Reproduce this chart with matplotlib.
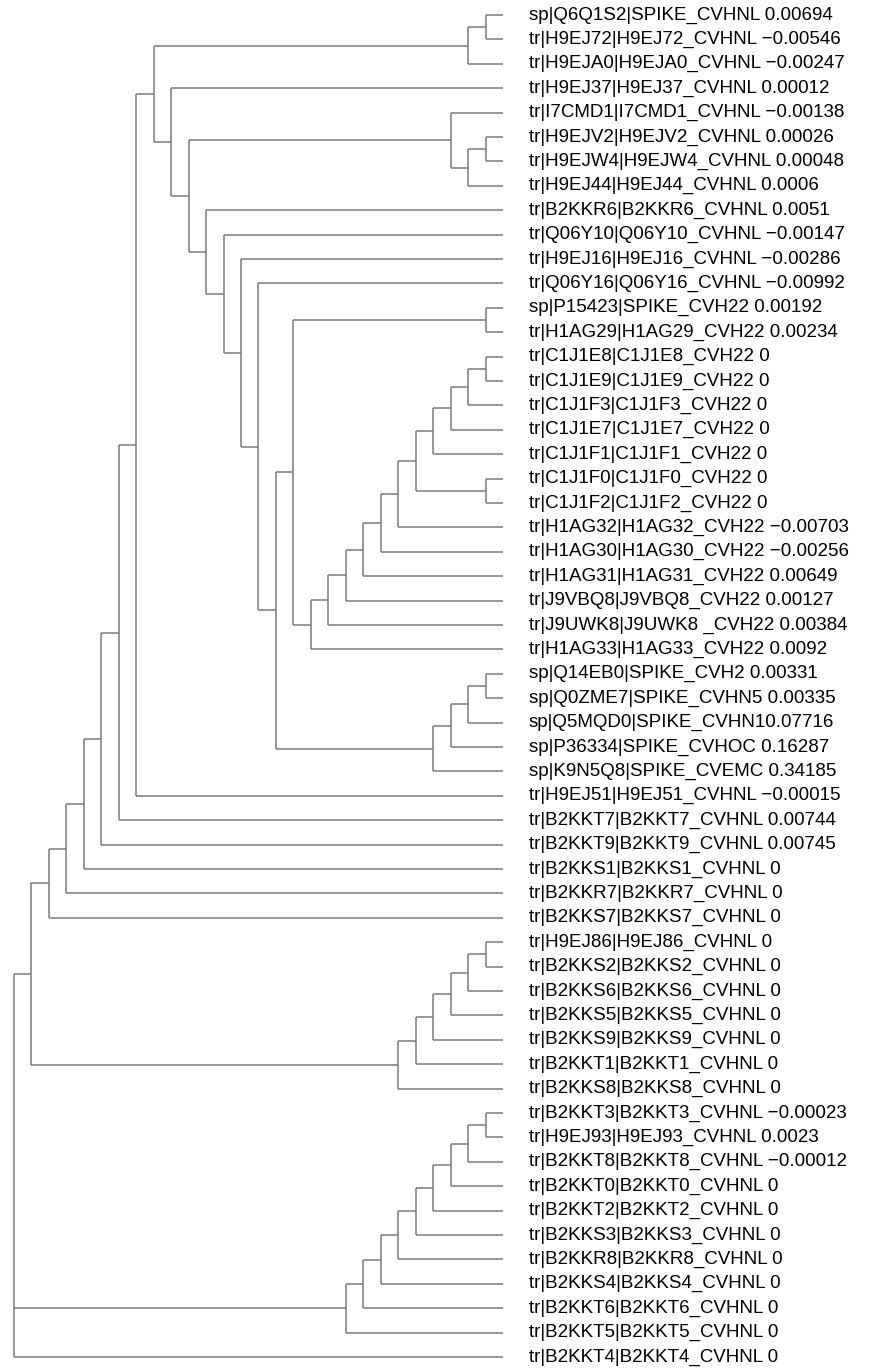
import matplotlib
matplotlib.use("Agg")
import matplotlib.pyplot as plt

plt.rcParams['font.family'] = ['Liberation Sans', 'DejaVu Sans']

# leaf labels, top to bottom
names = [
    "sp|Q6Q1S2|SPIKE_CVHNL", "tr|H9EJ72|H9EJ72_CVHNL", "tr|H9EJA0|H9EJA0_CVHNL",
    "tr|H9EJ37|H9EJ37_CVHNL", "tr|I7CMD1|I7CMD1_CVHNL", "tr|H9EJV2|H9EJV2_CVHNL",
    "tr|H9EJW4|H9EJW4_CVHNL", "tr|H9EJ44|H9EJ44_CVHNL", "tr|B2KKR6|B2KKR6_CVHNL",
    "tr|Q06Y10|Q06Y10_CVHNL", "tr|H9EJ16|H9EJ16_CVHNL", "tr|Q06Y16|Q06Y16_CVHNL",
    "sp|P15423|SPIKE_CVH22", "tr|H1AG29|H1AG29_CVH22", "tr|C1J1E8|C1J1E8_CVH22",
    "tr|C1J1E9|C1J1E9_CVH22", "tr|C1J1F3|C1J1F3_CVH22", "tr|C1J1E7|C1J1E7_CVH22",
    "tr|C1J1F1|C1J1F1_CVH22", "tr|C1J1F0|C1J1F0_CVH22", "tr|C1J1F2|C1J1F2_CVH22",
    "tr|H1AG32|H1AG32_CVH22", "tr|H1AG30|H1AG30_CVH22", "tr|H1AG31|H1AG31_CVH22",
    "tr|J9VBQ8|J9VBQ8_CVH22", "tr|J9UWK8|J9UWK8 _CVH22", "tr|H1AG33|H1AG33_CVH22",
    "sp|Q14EB0|SPIKE_CVH2", "sp|Q0ZME7|SPIKE_CVHN5", "sp|Q5MQD0|SPIKE_CVHN1",
    "sp|P36334|SPIKE_CVHOC", "sp|K9N5Q8|SPIKE_CVEMC", "tr|H9EJ51|H9EJ51_CVHNL",
    "tr|B2KKT7|B2KKT7_CVHNL", "tr|B2KKT9|B2KKT9_CVHNL", "tr|B2KKS1|B2KKS1_CVHNL",
    "tr|B2KKR7|B2KKR7_CVHNL", "tr|B2KKS7|B2KKS7_CVHNL", "tr|H9EJ86|H9EJ86_CVHNL",
    "tr|B2KKS2|B2KKS2_CVHNL", "tr|B2KKS6|B2KKS6_CVHNL", "tr|B2KKS5|B2KKS5_CVHNL",
    "tr|B2KKS9|B2KKS9_CVHNL", "tr|B2KKT1|B2KKT1_CVHNL", "tr|B2KKS8|B2KKS8_CVHNL",
    "tr|B2KKT3|B2KKT3_CVHNL", "tr|H9EJ93|H9EJ93_CVHNL", "tr|B2KKT8|B2KKT8_CVHNL",
    "tr|B2KKT0|B2KKT0_CVHNL", "tr|B2KKT2|B2KKT2_CVHNL", "tr|B2KKS3|B2KKS3_CVHNL",
    "tr|B2KKR8|B2KKR8_CVHNL", "tr|B2KKS4|B2KKS4_CVHNL", "tr|B2KKT6|B2KKT6_CVHNL",
    "tr|B2KKT5|B2KKT5_CVHNL", "tr|B2KKT4|B2KKT4_CVHNL",
]
values = [
    "0.00694", "\u22120.00546", "\u22120.00247", "0.00012", "\u22120.00138", "0.00026",
    "0.00048", "0.0006", "0.0051", "\u22120.00147", "\u22120.00286", "\u22120.00992",
    "0.00192", "0.00234", "0", "0", "0", "0", "0", "0", "0",
    "\u22120.00703", "\u22120.00256", "0.00649", "0.00127", "0.00384", "0.0092",
    "0.00331", "0.00335", "0.07716", "0.16287", "0.34185", "\u22120.00015",
    "0.00744", "0.00745", "0", "0", "0", "0", "0", "0", "0", "0", "0", "0",
    "\u22120.00023", "0.0023", "\u22120.00012", "0", "0", "0", "0", "0", "0", "0", "0",
]
LEAF_LEVEL = 28

# tree: (level, [children]); ints are leaf indices
hku1_a = (26, [(27, [0, 1]), 2])
hku1_b = (25, [4, (26, [(27, [5, 6]), 7])])
c1j1 = (17, [(18, [(19, [(20, [(21, [(22, [(23, [(24, [(25, [(26, [(27, [14, 15]), 16]), 17]), 18]),
                                                 (27, [19, 20])]), 21]), 22]), 23]), 24]), 25]), 26])
spikes = (24, [(25, [(26, [(27, [27, 28]), 29]), 30]), 31])
core = (15, [(16, [(27, [12, 13]), c1j1]), spikes])
chain = (14, [11, core])
chain = (13, [10, chain])
chain = (12, [9, chain])
chain = (11, [8, chain])
chain = (10, [hku1_b, chain])
chain = (9, [3, chain])
chain = (8, [hku1_a, chain])
chain = (7, [chain, 32])
chain = (6, [chain, 33])
chain = (5, [chain, 34])
chain = (4, [chain, 35])
chain = (3, [chain, 36])
chain = (2, [chain, 37])
b2kk_a = (22, [(23, [(24, [(25, [(26, [(27, [38, 39]), 40]), 41]), 42]), 43]), 44])
big = (1, [chain, b2kk_a])
b2kk_b = (19, [(20, [(21, [(22, [(23, [(24, [(25, [(26, [(27, [45, 46]), 47]), 48]), 49]),
                                         50]), 51]), 52]), 53]), 54])
tree = (0, [big, b2kk_b, 55])

fig = plt.figure(figsize=(8.7, 13.69), dpi=100)
ax = fig.add_axes([14 / 870, 12 / 1369, 489 / 870, 1342 / 1369])
ax.set_xlim(0, LEAF_LEVEL)
ax.set_ylim(len(names) - 1, 0)
ax.axis('off')

col = '#7a7a7a'
lw = 1.1


def draw(node):
    if isinstance(node, int):
        return LEAF_LEVEL, node
    level, kids = node
    ys = []
    for k in kids:
        kx, ky = draw(k)
        ax.plot([level, kx], [ky, ky], color=col, lw=lw, clip_on=False, solid_capstyle='butt')
        ys.append(ky)
    ax.plot([level, level], [min(ys), max(ys)], color=col, lw=lw, clip_on=False, solid_capstyle='butt')
    return level, (min(ys) + max(ys)) / 2


draw(tree)

for i, (n, v) in enumerate(zip(names, values)):
    sep = "" if n.endswith("CVHN1") else " "
    ax.annotate(n + sep + v, (LEAF_LEVEL, i), xytext=(26, 0), textcoords='offset pixels',
                va='center', ha='left', fontsize=13.5, color='black', annotation_clip=False)

fig.savefig("out.png", dpi=100)
